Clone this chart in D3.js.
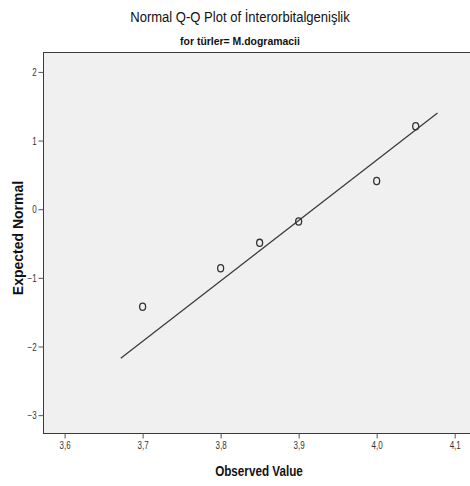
<!DOCTYPE html>
<html>
<head>
<meta charset="utf-8">
<script src="https://cdn.jsdelivr.net/npm/d3@7"></script>
<style>
  body { margin: 0; background: #fff; }
</style>
</head>
<body>
<div id="chart"></div>
<script>
// observed values and their expected normal scores
const observed = [3.70, 3.80, 3.85, 3.90, 4.00, 4.05];
const expected = [-1.42, -0.86, -0.49, -0.18, 0.41, 1.21];
// reference line end points (observed, expected)
const lineX = [3.672, 4.078];
const lineY = [-2.17, 1.40];
const xTicks = [3.6, 3.7, 3.8, 3.9, 4.0, 4.1];
const yTicks = [-3, -2, -1, 0, 1, 2];

const width = 470, height = 486;
const margin = {top: 52, left: 43, bottom: 53, right: -2};
const narrow = '"Liberation Sans Narrow", "Arial Narrow", "Liberation Sans", sans-serif';

const svg = d3.select('#chart').append('svg')
    .attr('width', width)
    .attr('height', height);

const x = d3.scaleLinear()
    .domain([3.5723, 4.1222])
    .range([margin.left, width - margin.right]);

const y = d3.scaleLinear()
    .domain([-3.26, 2.29])
    .range([height - margin.bottom, margin.top]);

// plot area
svg.append('rect')
   .attr('x', margin.left + 0.5)
   .attr('y', margin.top + 0.5)
   .attr('width', width - margin.right - margin.left)
   .attr('height', height - margin.bottom - margin.top)
   .attr('fill', '#f0f0f0')
   .attr('stroke', '#3a3a3a')
   .attr('stroke-width', 1);

const fmt = d => d3.format('.1f')(d).replace('.', ',');

const xAxis = svg.append('g')
    .attr('transform', `translate(0, ${height - margin.bottom + 0.5})`)
    .call(d3.axisBottom(x).tickValues(xTicks).tickFormat(fmt).tickSizeOuter(0).tickSize(5).tickPadding(3));

const yAxis = svg.append('g')
    .attr('transform', `translate(${margin.left + 0.5}, 0)`)
    .call(d3.axisLeft(y).tickValues(yTicks).tickFormat(d3.format('d')).tickSizeOuter(0).tickSize(5).tickPadding(2));

[xAxis, yAxis].forEach(a => {
    a.select('.domain').remove();
    a.selectAll('line').attr('stroke', '#555');
    a.selectAll('text')
     .attr('fill', '#333')
     .style('font-size', '10px')
     .style('font-family', narrow);
});
xAxis.selectAll('text').attr('transform', 'scale(0.8,1)');
yAxis.selectAll('text').attr('dy', '0.35em').attr('x', -8.5).attr('transform', 'scale(0.8,1)');

// reference line
svg.append('line')
   .attr('x1', x(lineX[0]))
   .attr('y1', y(lineY[0]))
   .attr('x2', x(lineX[1]))
   .attr('y2', y(lineY[1]))
   .attr('stroke', '#3c3c3c')
   .attr('stroke-width', 1.3);

// points
const pts = observed.map((d, i) => ({x: d, y: expected[i]}));
svg.append('g').selectAll('ellipse').data(pts)
   .join('ellipse')
   .attr('cx', d => x(d.x))
   .attr('cy', d => y(d.y))
   .attr('rx', 3)
   .attr('ry', 3.6)
   .attr('fill', 'none')
   .attr('stroke', '#333')
   .attr('stroke-width', 1.3);

// titles, squeezed horizontally to look like a narrow face
function label(cx, cy, txt, font, sx) {
    svg.append('text')
       .attr('transform', `translate(${cx}, ${cy}) scale(${sx}, 1)`)
       .attr('text-anchor', 'middle')
       .style('font', font)
       .attr('fill', '#111')
       .text(txt);
}
label(240, 22, 'Normal Q-Q Plot of İnterorbitalgenişlik', `15px ${narrow}`, 0.87);
label(240, 45, 'for türler= M.dogramacii', `bold 11px ${narrow}`, 0.95);
label(259, 476, 'Observed Value', `bold 15px ${narrow}`, 0.78);

svg.append('text')
   .attr('transform', 'translate(23, 238) rotate(-90)')
   .attr('text-anchor', 'middle')
   .style('font', 'bold 14px "Liberation Sans", Arial, sans-serif')
   .attr('fill', '#111')
   .text('Expected Normal');
</script>
</body>
</html>
